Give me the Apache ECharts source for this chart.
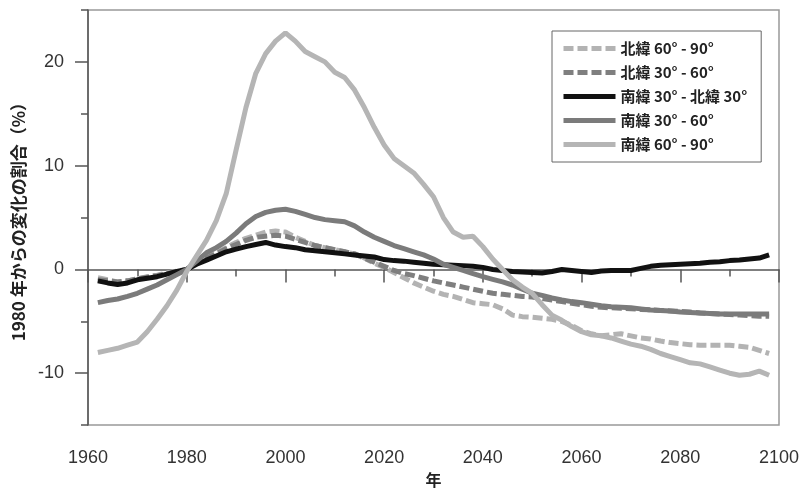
<!DOCTYPE html>
<html>
<head>
<meta charset="utf-8">
<script src="https://cdn.jsdelivr.net/npm/echarts@6/dist/echarts.min.js"></script>
<style>
  html, body { margin: 0; padding: 0; background: #fff; }
  #chart { width: 803px; height: 493px; }
</style>
</head>
<body>
<div id="chart"></div>
<script>
// years sampled every 2 years
var years = [];
for (var y = 1962; y <= 2098; y += 2) years.push(y);

var nh60 = [-0.8,-1.0,-1.2,-1.1,-0.9,-0.7,-0.55,-0.35,-0.15,0.0,
  0.6,1.1,1.6,2.1,2.6,3.0,3.3,3.6,3.7,3.6,
  3.1,2.7,2.3,2.1,1.9,1.7,1.5,1.1,0.6,0.2,
  -0.3,-0.8,-1.3,-1.7,-2.1,-2.4,-2.6,-2.9,-3.2,-3.3,
  -3.4,-3.8,-4.4,-4.55,-4.6,-4.7,-4.8,-5.0,-5.4,-5.9,
  -6.2,-6.4,-6.3,-6.2,-6.4,-6.6,-6.7,-6.9,-7.05,-7.15,
  -7.25,-7.3,-7.3,-7.3,-7.3,-7.4,-7.5,-7.8,-8.1];

var nh30 = [-1.0,-1.1,-1.2,-1.1,-0.9,-0.75,-0.6,-0.4,-0.2,0.0,
  0.6,1.1,1.5,2.0,2.4,2.8,3.1,3.2,3.3,3.2,
  2.9,2.6,2.3,2.1,1.9,1.7,1.5,1.1,0.7,0.3,
  -0.1,-0.4,-0.6,-0.85,-1.1,-1.3,-1.5,-1.7,-1.9,-2.1,
  -2.3,-2.4,-2.5,-2.6,-2.65,-2.8,-2.95,-3.1,-3.25,-3.4,
  -3.55,-3.65,-3.7,-3.75,-3.8,-3.85,-3.9,-3.95,-4.0,-4.05,
  -4.1,-4.2,-4.25,-4.3,-4.35,-4.4,-4.45,-4.5,-4.5];

var trop = [-1.1,-1.3,-1.45,-1.3,-1.0,-0.85,-0.7,-0.45,-0.2,0.0,
  0.5,0.9,1.3,1.7,1.95,2.2,2.4,2.6,2.35,2.2,
  2.1,1.9,1.8,1.7,1.6,1.5,1.4,1.3,1.2,0.95,
  0.85,0.8,0.7,0.6,0.5,0.45,0.4,0.35,0.3,0.2,
  0.0,-0.1,-0.2,-0.25,-0.3,-0.35,-0.2,0.0,-0.1,-0.2,
  -0.3,-0.15,-0.1,-0.1,-0.1,0.1,0.3,0.4,0.45,0.5,
  0.55,0.6,0.7,0.75,0.85,0.9,1.0,1.1,1.4];

var sh30 = [-3.2,-3.0,-2.85,-2.6,-2.3,-1.9,-1.5,-1.0,-0.5,0.0,
  0.8,1.6,2.1,2.7,3.5,4.4,5.1,5.5,5.7,5.8,
  5.6,5.3,5.0,4.8,4.7,4.6,4.2,3.6,3.1,2.7,
  2.3,2.0,1.7,1.4,1.0,0.5,0.2,-0.1,-0.4,-0.7,
  -0.95,-1.2,-1.5,-1.9,-2.3,-2.5,-2.75,-2.95,-3.1,-3.2,
  -3.35,-3.5,-3.6,-3.65,-3.7,-3.8,-3.9,-3.95,-4.0,-4.1,
  -4.15,-4.2,-4.25,-4.3,-4.3,-4.3,-4.3,-4.3,-4.3];

var sh60 = [-8.0,-7.8,-7.6,-7.3,-7.0,-6.0,-4.8,-3.5,-2.0,-0.2,
  1.3,2.8,4.7,7.3,11.5,15.6,18.9,20.8,22.0,22.8,
  22.0,21.0,20.5,20.0,19.0,18.5,17.3,15.6,13.7,12.0,
  10.7,10.0,9.3,8.2,7.0,5.0,3.6,3.1,3.2,2.2,
  1.0,0.0,-1.0,-1.7,-2.3,-3.4,-4.4,-4.9,-5.5,-6.0,
  -6.3,-6.4,-6.6,-6.9,-7.2,-7.4,-7.7,-8.1,-8.4,-8.7,
  -9.0,-9.1,-9.4,-9.7,-10.0,-10.2,-10.1,-9.8,-10.2];

var seriesNames = ['北緯 60° - 90°', '北緯 30° - 60°', '南緯 30° - 北緯 30°', '南緯 30° - 60°', '南緯 60° - 90°'];
var seriesValues = [nh60, nh30, trop, sh30, sh60];
var seriesColors = ['#b3b3b3', '#7f7f7f', '#111111', '#7b7b7b', '#b5b5b5'];
var seriesDashed = [true, true, false, false, false];

var yLabelTicks = [-10, 0, 10, 20];

function pairs(vals) {
  return years.map(function (yr, i) { return [yr, vals[i]]; });
}

var chart = echarts.init(document.getElementById('chart'));
var font = 'Liberation Sans, Arial, sans-serif';
var jpFont = 'Noto Sans CJK JP, sans-serif';

chart.setOption({
  animation: false,
  backgroundColor: '#ffffff',
  grid: {
    left: 88, right: 24, top: 10, bottom: 60,
    show: true, borderColor: '#999', borderWidth: 1.5
  },
  legend: {
    orient: 'vertical',
    left: 552, top: 31,
    padding: [10, 14, 10, 9],
    borderColor: '#666', borderWidth: 1,
    itemWidth: 52, itemHeight: 14, itemGap: 9,
    itemStyle: { opacity: 0 },
    lineStyle: { width: 5 },
    textStyle: { fontSize: 15, color: '#222', fontWeight: 'bold', fontFamily: jpFont },
    data: seriesNames
  },
  xAxis: {
    type: 'value',
    min: 1960, max: 2100, interval: 20,
    name: '年', nameLocation: 'middle', nameGap: 43,
    nameTextStyle: { fontSize: 16, color: '#222', fontWeight: 'bold', fontFamily: jpFont },
    axisLine: { lineStyle: { color: '#555', width: 1.5 } },
    axisTick: { length: 13, lineStyle: { color: '#555', width: 1.5 } },
    minorTick: { show: true, splitNumber: 2, length: 7, lineStyle: { color: '#555', width: 1.5 } },
    axisLabel: {
      fontSize: 18, color: '#333', margin: 24, fontFamily: font,
      formatter: function (v) { return String(v); }
    },
    splitLine: { show: false }
  },
  yAxis: [{
    type: 'value',
    min: -15, max: 25, interval: 5,
    name: '1980 年からの変化の割合（%）', nameLocation: 'middle', nameGap: 56,
    nameTextStyle: { fontSize: 17, color: '#222', fontWeight: 'bold', fontFamily: jpFont },
    axisLine: { show: true, lineStyle: { color: '#555', width: 1.5 } },
    axisTick: { length: 7, lineStyle: { color: '#555', width: 1.5 } },
    axisLabel: {
      fontSize: 18, color: '#333', margin: 24, fontFamily: font,
      formatter: function (v) { return yLabelTicks.indexOf(v) >= 0 ? String(v) : ''; }
    },
    splitLine: { show: false }
  }, {
    type: 'value',
    position: 'left',
    min: -15, max: 25,
    axisLine: { show: false },
    axisLabel: { show: false },
    axisTick: { show: true, customValues: yLabelTicks, length: 13, lineStyle: { color: '#555', width: 1.5 } },
    splitLine: { show: false }
  }],
  series: seriesNames.map(function (name, i) {
    return {
      name: name,
      type: 'line',
      data: pairs(seriesValues[i]),
      symbol: 'none',
      smooth: false,
      color: seriesColors[i],
      lineStyle: {
        color: seriesColors[i],
        width: 5,
        type: seriesDashed[i] ? [10, 4] : 'solid'
      }
    };
  })
});
</script>
</body>
</html>
